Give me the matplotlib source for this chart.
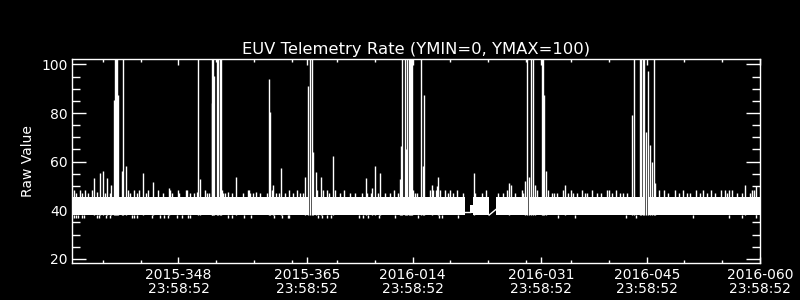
import matplotlib
matplotlib.use("Agg")
import matplotlib.pyplot as plt
from matplotlib.ticker import MultipleLocator, FixedLocator

# x values are day numbers counted from 2015-001 (2016-001 = 366)
x_min, x_max = 333.9, 425.0
y_min, y_max = 18.4, 102.1

xtick_days = [348, 365, 379, 396, 410, 425]
xtick_labels = ["2015-348\n23:58:52", "2015-365\n23:58:52", "2016-014\n23:58:52",
                "2016-031\n23:58:52", "2016-045\n23:58:52", "2016-060\n23:58:52"]
xminor_days = [338, 343, 353, 358, 363, 369, 374, 384, 389, 394, 400, 405, 415, 420]

# dense baseline band of the telemetry rate
band_start = [333.9, 352.45, 365.70, 378.40, 386.60, 387.04, 390.06, 394.60, 410.20]
band_end = [352.45, 365.30, 378.15, 385.95, 387.04, 389.13, 394.20, 409.80, 425.0]
band_low = [38.0, 38.0, 38.0, 38.0, 39.0, 38.0, 38.0, 38.0, 38.0]
band_high = [45.5, 45.5, 45.5, 45.5, 42.0, 45.5, 45.5, 45.5, 45.5]

# short lines across the data gaps near 2016-020
gap_x = [[385.95, 386.60], [389.13, 390.06]]
gap_y = [[39.4, 39.4], [38.0, 40.4]]

# large spikes (values above 100 are clipped at the top)
spike_days = [336.85, 337.65, 338.05, 338.58, 339.07, 339.50, 339.62, 339.75, 339.88, 340.02,
              340.52, 340.70, 341.05, 343.24, 344.56, 346.71,
              350.63, 350.79, 352.38, 352.50, 352.60, 352.74, 353.04, 353.17, 353.44, 353.57, 355.60,
              360.03, 360.16, 360.56, 361.62,
              364.80, 365.16, 365.36, 365.62, 365.78, 366.19, 366.88, 368.51,
              372.88, 373.64, 374.07, 374.73,
              377.30, 377.45, 377.61, 377.94, 378.07, 378.27, 378.54, 378.67, 378.80, 378.93,
              380.15, 380.32, 380.56, 381.54, 382.42, 387.08, 391.82,
              393.90, 394.10, 394.43, 394.69, 394.89, 395.22, 396.09, 396.22, 396.44, 396.68, 399.24,
              408.07, 408.31, 409.07, 409.20, 409.46, 409.60, 409.86, 410.19, 410.46, 410.65, 411.03, 411.16,
              423.04, 424.50]
spike_vals = [53.3, 55.4, 56.2, 53.3, 50.3, 85.3, 120, 120, 120, 87.4,
              56.0, 120, 58.1, 55.4, 51.5, 49.3,
              120, 53.0, 84.0, 120, 120, 95.2, 120, 120, 120, 120, 53.8,
              94.2, 80.5, 50.3, 57.2,
              53.8, 91.0, 120, 120, 64.0, 55.8, 53.6, 62.3,
              53.3, 49.3, 58.1, 55.4,
              53.0, 66.4, 120, 120, 65.0, 120, 120, 120, 120, 120,
              120, 58.1, 87.4, 50.3, 53.6, 55.2, 51.3,
              52.0, 120, 53.8, 120, 120, 50.3, 120, 120, 87.4, 56.0, 50.3,
              79.0, 120, 120, 120, 120, 120, 72.3, 97.3, 66.8, 60.0, 120, 51.3,
              50.3, 49.8]

# small spikes just above the band
small_days = [334.16, 334.43, 334.96, 335.22, 335.62, 336.06, 336.51, 337.17, 338.27, 338.93,
              341.36, 341.58, 342.15, 342.47, 342.81, 343.70, 344.01, 345.33, 345.91, 346.88,
              347.10, 347.90, 348.07, 348.96, 349.09, 349.53, 350.10, 350.42, 351.52, 351.74,
              352.05, 353.73, 353.86, 354.16, 354.52, 355.05, 356.59, 357.17, 357.38, 357.48,
              357.91, 358.27, 358.80, 359.69, 360.43, 360.88, 361.32, 362.11, 362.64, 363.21,
              363.66, 364.10, 364.54, 366.39, 367.11, 367.64, 367.98, 368.73, 369.40, 369.97,
              370.72, 371.38, 372.27, 372.93, 373.50, 374.47, 375.36, 376.02, 376.59, 377.04,
              379.11, 379.33, 379.55, 381.31, 381.75, 382.07, 382.24, 382.64, 383.30, 383.66,
              384.01, 384.40, 384.85, 385.65, 387.28, 388.16, 388.69, 390.36, 391.03, 391.56,
              392.01, 392.58, 393.46, 393.68, 395.45, 396.99, 397.44, 397.74, 398.10, 398.97,
              399.63, 399.95, 400.30, 400.75, 401.41, 401.85, 402.07, 402.81, 403.40, 403.93,
              404.72, 405.03, 405.38, 405.91, 406.48, 406.92, 407.37, 411.69, 412.35, 412.88,
              413.77, 414.34, 414.79, 415.32, 415.76, 416.55, 417.08, 417.44, 417.97, 418.50,
              419.07, 419.86, 420.39, 420.66, 420.92, 421.28, 421.94, 422.60, 423.70, 424.00,
              424.27]
small_vals = [48.3, 47.0, 48.3, 47.0, 48.3, 47.0, 48.3, 47.5, 47.0, 47.0,
              48.3, 47.0, 48.3, 47.0, 48.3, 47.0, 48.3, 48.3, 47.0, 48.3,
              47.0, 48.3, 47.0, 48.3, 48.3, 47.0, 47.0, 47.5, 48.3, 47.0,
              47.0, 48.3, 47.0, 47.0, 47.5, 47.0, 47.0, 48.3, 48.3, 47.0,
              47.0, 47.5, 47.0, 47.0, 48.3, 47.0, 47.0, 47.0, 48.3, 47.0,
              48.3, 47.0, 47.0, 48.3, 48.3, 48.3, 47.0, 48.3, 47.0, 48.3,
              47.0, 47.0, 47.0, 47.0, 47.0, 47.0, 47.0, 47.0, 48.3, 47.0,
              48.3, 47.0, 47.0, 48.3, 48.3, 48.3, 50.0, 48.3, 48.3, 47.0,
              48.3, 47.0, 48.3, 47.0, 47.0, 47.0, 48.3, 47.0, 47.0, 48.3,
              50.3, 47.0, 48.3, 47.0, 48.3, 48.3, 47.0, 47.0, 47.0, 48.3,
              47.0, 48.3, 47.0, 47.0, 48.3, 47.0, 47.0, 48.3, 47.0, 47.0,
              48.3, 48.3, 47.0, 48.3, 47.0, 47.0, 47.0, 48.3, 48.3, 47.0,
              48.3, 47.0, 48.3, 47.0, 47.0, 48.3, 47.0, 48.3, 47.0, 48.3,
              47.0, 48.3, 48.3, 47.0, 48.3, 48.3, 47.0, 47.0, 47.0, 48.3,
              48.3]

# short drops just below the band
dip_days = [334.16, 334.43, 334.73, 335.18, 335.49, 337.17, 337.52, 338.40, 338.93, 341.81,
            342.15, 342.47, 344.46, 345.55, 346.13, 346.66, 347.77, 348.43, 349.22, 349.53,
            354.52, 355.05, 356.72, 357.61, 360.69, 361.67, 362.47, 362.68, 366.52, 366.97,
            367.64, 368.20, 371.95, 372.48, 373.14, 374.56, 376.68, 379.69, 382.51, 382.87,
            385.07, 398.31, 400.52, 407.28, 408.60, 416.19, 420.96, 422.60, 424.50]
dip_low = 37.0

fig = plt.figure(figsize=(8, 3), dpi=100, facecolor="black")
ax = fig.add_axes([0.09, 0.1243, 0.86, 0.678], facecolor="black")

for s, e, lo, hi in zip(band_start, band_end, band_low, band_high):
    ax.fill_between([s, e], lo, hi, color="white", lw=0)
for gx, gy in zip(gap_x, gap_y):
    ax.plot(gx, gy, color="white", lw=1.0)

ax.vlines(spike_days, 38.0, spike_vals, colors="white", lw=1.0)
ax.vlines(small_days, 45.0, small_vals, colors="white", lw=1.0)
ax.vlines(dip_days, dip_low, 38.0, colors="white", lw=1.0)

ax.set_xlim(x_min, x_max)
ax.set_ylim(y_min, y_max)

ax.xaxis.set_major_locator(FixedLocator(xtick_days))
ax.xaxis.set_minor_locator(FixedLocator(xminor_days))
ax.set_xticklabels(xtick_labels, linespacing=1.0)
ax.yaxis.set_major_locator(MultipleLocator(20))
ax.yaxis.set_minor_locator(MultipleLocator(5))

for sp in ax.spines.values():
    sp.set_color("white")
    sp.set_linewidth(1.0)

ax.tick_params(which="both", direction="in", colors="white", top=True, right=True,
               labelsize=10, width=1.0)
ax.tick_params(axis="x", which="major", length=4.3, pad=4)
ax.tick_params(axis="x", which="minor", length=2.2)
ax.tick_params(axis="y", which="major", length=10, pad=3)
ax.tick_params(axis="y", which="minor", length=5.8)

ax.set_ylabel("Raw Value", color="white", fontsize=10)
ax.yaxis.set_label_coords(-0.054, 0.5)
ax.set_title("EUV Telemetry Rate (YMIN=0, YMAX=100)", color="white", fontsize=11.8, pad=4)

fig.savefig("out.png", dpi=100, facecolor="black")
